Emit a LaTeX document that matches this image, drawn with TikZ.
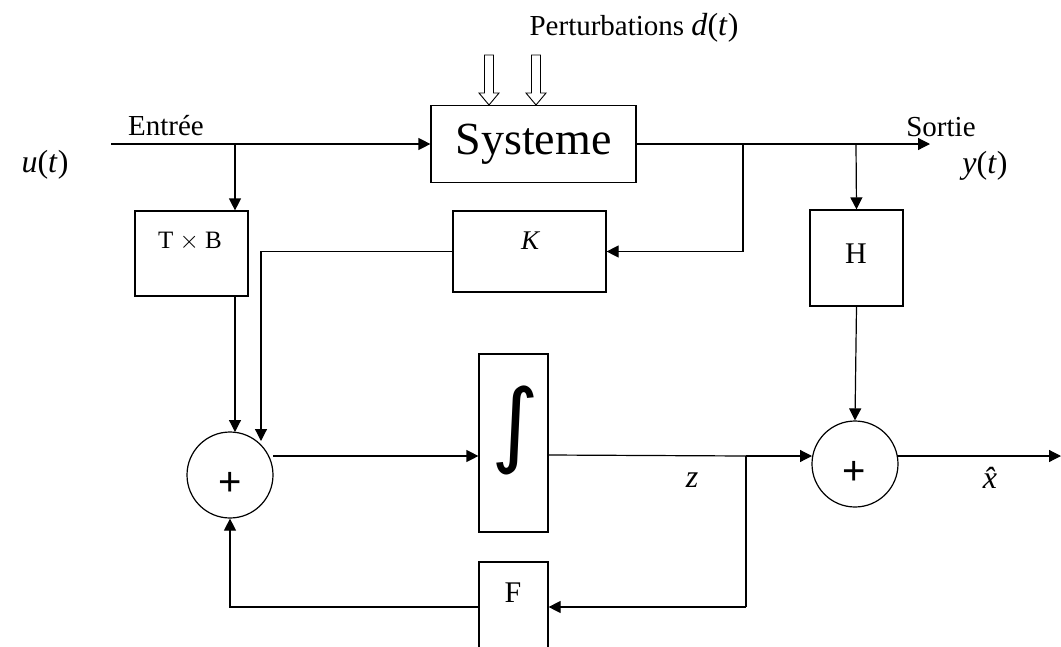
\documentclass[tikz,border=0pt]{standalone}
\usepackage{fontspec}
\setmainfont{Liberation Serif}
\newfontfamily\plusfont{Liberation Sans}
\newfontfamily\intfont{DejaVu Sans}
\usetikzlibrary{arrows.meta}
\begin{document}
\begin{tikzpicture}[x=1pt,y=-1pt,
  blk/.style={draw,line width=1.2pt,inner sep=0pt},
  sumnode/.style={draw,line width=1.2pt,circle,minimum size=86pt,inner sep=0pt},
  conn/.style={line width=1.2pt},
  arr/.style={line width=1.2pt,-{Triangle[length=12pt,width=12pt]}},
  lbl/.style={inner sep=0pt,font=\fontsize{29}{34}\selectfont},
  mlbl/.style={inner sep=0pt,font=\fontsize{32}{36}\selectfont},
  blbl/.style={inner sep=0pt,font=\fontsize{30}{34}\selectfont},
  pert/.style={draw,line width=0.9pt,fill=white}]
\useasboundingbox (0,0) rectangle (1061,646);
% blocks
\node[blk,minimum width=205pt,minimum height=77pt,font=\fontsize{46}{52}\selectfont] (sys) at (533.5,144) {Systeme};
\node[blk,minimum width=113pt,minimum height=85pt] (tb) at (191.5,253.5) {};
\node[inner sep=0pt,font=\fontsize{25}{28}\selectfont] (tbl) at (190,241) {T $\times$ B};
\node[blk,minimum width=153pt,minimum height=81pt] (k) at (529.5,251.5) {};
\node[blbl,font=\fontsize{27}{30}\selectfont\itshape] (kl) at (530,241) {K};
\node[blk,minimum width=93pt,minimum height=96pt] (h) at (856.5,258) {};
\node[blbl] (hl) at (856,254) {H};
\node[blk,minimum width=69pt,minimum height=178pt] (int) at (513.5,443) {};
\node[inner sep=0pt,font=\intfont\fontsize{92}{96}\selectfont] (intl) at (515,430) {∫};
\node[blk,minimum width=69pt,minimum height=100pt] (f) at (513.5,612) {};
\node[blbl] (fl) at (513,593) {F};
\node[sumnode] (s1) at (230,475) {};
\node[inner sep=0pt,font=\plusfont\fontsize{40}{44}\selectfont] (p1) at (230,484) {+};
\node[sumnode] (s2) at (855,464) {};
\node[inner sep=0pt,font=\plusfont\fontsize{40}{44}\selectfont] (p2) at (854,473) {+};
% labels
\node[lbl] (pl) at (634,28) {Perturbations \fontsize{32}{36}\selectfont\textit{d}(\textit{t})};
\node[lbl] (el) at (166,126) {Entrée};
\node[mlbl] (ul) at (45,165) {\textit{u}(\textit{t})};
\node[lbl] (sl) at (941,127) {Sortie};
\node[mlbl] (yl) at (985,166) {\textit{y}(\textit{t})};
\node[mlbl] (zl) at (692,480) {\textit{z}};
\node[mlbl] (xl) at (996,478) {\textit{x̂}};
% coordinates
\coordinate (in) at (111,144);
\coordinate (bin) at (235,144);
\coordinate (out) at (930,144);
\coordinate (bk) at (743,144);
\coordinate (bh) at (856,144);
\coordinate (bz) at (746,456);
\coordinate (xout) at (1061,456);
% connectors
\draw[arr] (in) -- (sys.west);
\draw[arr] (bin) -- (bin |- tb.north);
\draw[arr] (sys.east) -- (out);
\draw[conn] (bk) -- (bk |- k.east);
\draw[arr] (bk |- k.east) -- (k.east);
\draw[arr] (bh) -- (h.north);
\draw[arr] (k.west) -| (261,441);
\draw[arr] (bin |- tb.south) -- (235,432);
\draw[arr] (273,456) -- (int.west |- 0,456);
\draw[conn] (int.east |- 0,455) -- (bz);
\draw[arr] (bz) -- (812,456);
\draw[arr] (h.south) -- (s2.north);
\draw[conn] (bz) -- (746,607);
\draw[arr] (746,607) -- (f.east |- 0,607);
\draw[arr] (f.west |- 0,607) -| (s1.south);
\draw[arr] (897,456) -- (xout);
% perturbation arrows
\foreach \px/\nm in {489/pa,536/pb}{
  \draw[pert] (\px-4.5,55) -- (\px+4.5,55) -- (\px+4.5,93) -- (\px+10,93) -- (\px,105) -- (\px-10,93) -- (\px-4.5,93) -- cycle;
}
\end{tikzpicture}
\end{document}
